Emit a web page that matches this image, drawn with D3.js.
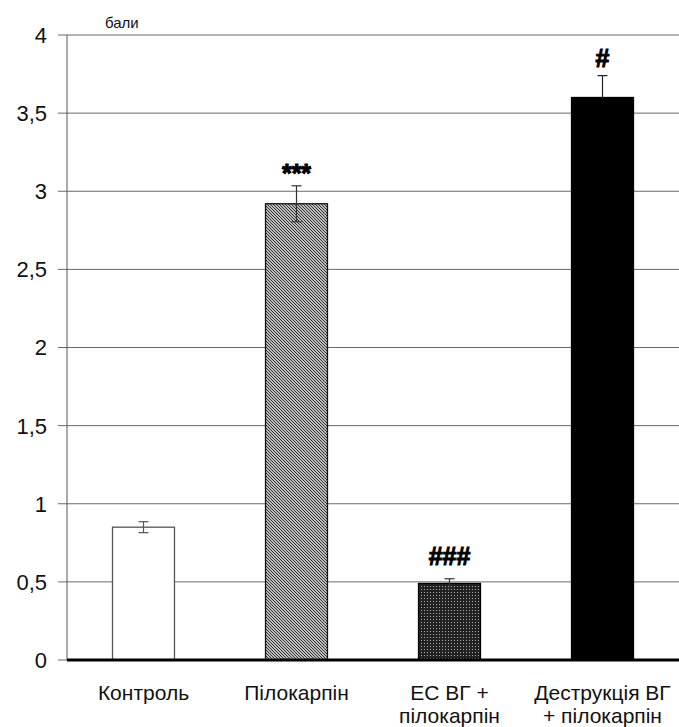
<!DOCTYPE html>
<html><head><meta charset="utf-8">
<script src="https://cdn.jsdelivr.net/npm/d3@7/dist/d3.min.js"></script>
<style>body{margin:0;background:#fff}</style>
</head><body>
<script>
const categories = [["Контроль"], ["Пілокарпін"], ["ЕС ВГ +", "пілокарпін"], ["Деструкція ВГ", "+ пілокарпін"]];
const values = [0.85, 2.92, 0.49, 3.6];
const errors = [0.035, 0.115, 0.03, 0.14];
const marks = ["", "***", "###", "#"];
const yTicks = [0, 0.5, 1, 1.5, 2, 2.5, 3, 3.5, 4];
const yTitle = "бали";

const W = 679, H = 727;
const svg = d3.select("body").append("svg").attr("width", W).attr("height", H)
  .style("font-family", "'Liberation Sans', Arial, sans-serif");

const defs = svg.append("defs");
const p1 = defs.append("pattern").attr("id", "diag").attr("patternUnits", "userSpaceOnUse")
  .attr("width", 3).attr("height", 3);
p1.append("rect").attr("width", 3).attr("height", 3).attr("fill", "#fff");
p1.append("path").attr("d", "M-1,-1 L4,4 M-1,2 L1,4 M2,-1 L4,1").attr("stroke", "#222").attr("stroke-width", 1.1);
const p2 = defs.append("pattern").attr("id", "grid").attr("patternUnits", "userSpaceOnUse")
  .attr("width", 3).attr("height", 3);
p2.append("rect").attr("width", 3).attr("height", 3).attr("fill", "#222");
p2.append("rect").attr("x", 1).attr("y", 1).attr("width", 1).attr("height", 1).attr("fill", "#aaa");
const fills = ["#fff", "url(#diag)", "url(#grid)", "#000"];
const strokes = ["#555", "#111", "#000", "#000"];
const markGap = {"***": 4, "###": 14, "#": 9};

const x0 = 67, x1 = 679, yTop = 35, yBot = 660;
const x = d3.scaleBand().domain(d3.range(categories.length)).range([x0, x1])
  .paddingInner(0.595).paddingOuter(0.2975);
const y = d3.scaleLinear().domain([0, 4]).range([yBot, yTop]);

// gridlines
svg.append("g").selectAll("line").data(yTicks).join("line")
  .attr("x1", 58).attr("x2", x1).attr("y1", d => y(d)).attr("y2", d => y(d))
  .attr("stroke", "#6a6a6a").attr("stroke-width", 1);

// y axis line
svg.append("line").attr("x1", x0).attr("x2", x0).attr("y1", yTop).attr("y2", yBot)
  .attr("stroke", "#555").attr("stroke-width", 1);

// tick labels
svg.append("g").selectAll("text").data(yTicks).join("text")
  .attr("x", 47).attr("y", d => y(d)).attr("dy", "0.36em")
  .attr("text-anchor", "end").attr("font-size", 22).attr("fill", "#111")
  .text(d => String(d).replace(".", ","));

svg.append("text").attr("x", 105).attr("y", 28).attr("font-size", 15).attr("fill", "#111").text(yTitle);

// bars
svg.append("g").selectAll("rect").data(values).join("rect")
  .attr("x", (d, i) => x(i)).attr("width", x.bandwidth())
  .attr("y", d => y(d)).attr("height", d => yBot - y(d))
  .attr("fill", (d, i) => fills[i]).attr("stroke", (d, i) => strokes[i]).attr("stroke-width", 1.3);

// error bars
const eb = svg.append("g");
values.forEach((v, i) => {
  const cx = x(i) + x.bandwidth() / 2;
  const col = i === 0 ? "#555" : (i === 3 ? "#222" : "#333");
  const lo = i === 3 ? v : v - errors[i];
  eb.append("line").attr("x1", cx).attr("x2", cx).attr("y1", y(v + errors[i])).attr("y2", y(lo))
    .attr("stroke", col).attr("stroke-width", 1.2);
  eb.append("line").attr("x1", cx - 5).attr("x2", cx + 5).attr("y1", y(v + errors[i])).attr("y2", y(v + errors[i]))
    .attr("stroke", col).attr("stroke-width", 1.2);
  if (i !== 3) {
    eb.append("line").attr("x1", cx - 5).attr("x2", cx + 5).attr("y1", y(v - errors[i])).attr("y2", y(v - errors[i]))
      .attr("stroke", col).attr("stroke-width", 1.2);
  }
});

// significance marks
svg.append("g").selectAll("text").data(marks).join("text")
  .attr("x", (d, i) => x(i) + x.bandwidth() / 2)
  .attr("y", (d, i) => y(values[i] + errors[i]) - (markGap[d] || 0))
  .attr("text-anchor", "middle").attr("font-size", 25).attr("font-weight", "bold").attr("fill", "#000")
  .attr("stroke", "#000").attr("stroke-width", 1)
  .text(d => d);

// baseline
svg.append("line").attr("x1", x0).attr("x2", x1).attr("y1", yBot).attr("y2", yBot)
  .attr("stroke", "#000").attr("stroke-width", 3);

// x labels
const xl = svg.append("g").selectAll("text").data(categories).join("text")
  .attr("text-anchor", "middle").attr("font-size", 21).attr("fill", "#111");
xl.each(function(lines, i) {
  const t = d3.select(this);
  lines.forEach((ln, j) => {
    t.append("tspan").attr("x", x(i) + x.bandwidth() / 2).attr("y", 700 + j * 23).text(ln);
  });
});
</script>
</body></html>
